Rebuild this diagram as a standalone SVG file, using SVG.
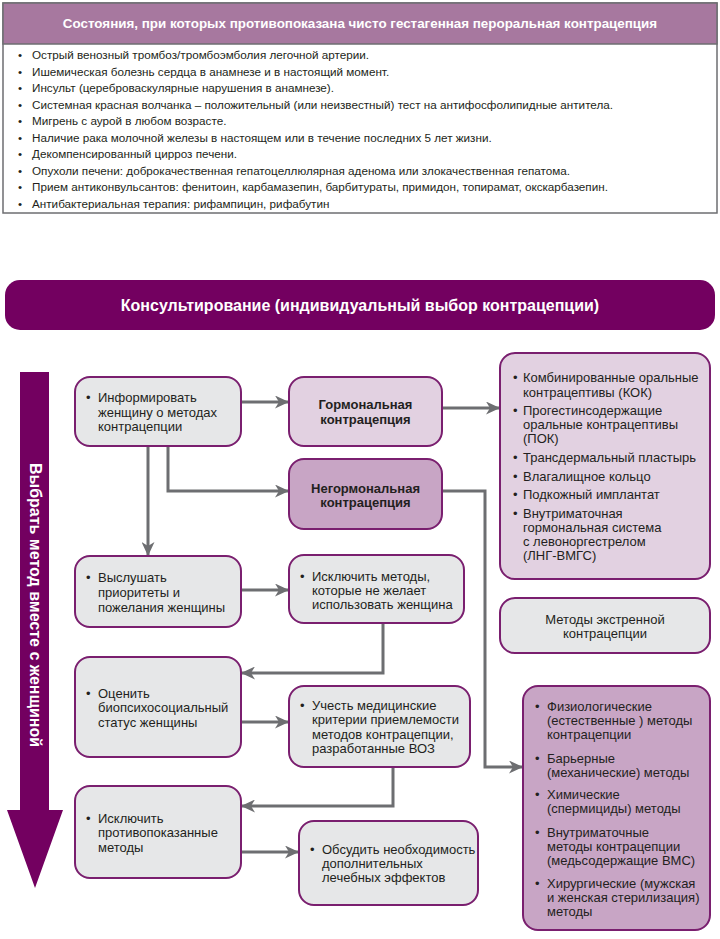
<svg xmlns="http://www.w3.org/2000/svg" width="720" height="939" viewBox="0 0 720 939">
<defs>
<marker id="ah" markerUnits="userSpaceOnUse" markerWidth="15" markerHeight="13" refX="14" refY="6.5" orient="auto">
<path d="M0,0 L14,6.5 L0,13 L4,6.5 z" fill="#6d6e71"/>
</marker>
<style>
.t{font-family:"Liberation Sans",Arial,sans-serif;font-size:13px;fill:#231f20}
.tl{font-family:"Liberation Sans",Arial,sans-serif;font-size:11.7px;fill:#231f20}
.b{font-weight:bold}
.c{text-anchor:middle}
.g{fill:#e6e7e8;stroke:#7a1f6f;stroke-width:2}
.l{fill:#e2d1e1;stroke:#7a1f6f;stroke-width:2}
.m{fill:#c8a5c5;stroke:#7a1f6f;stroke-width:2}
.cn{fill:none;stroke:#6d6e71;stroke-width:3;marker-end:url(#ah)}
</style>
</defs>
<rect width="720" height="939" fill="#ffffff"/>

<g id="contraindications">
<rect x="3" y="3" width="714" height="210" fill="#ffffff" stroke="#6d6e71" stroke-width="1.5"/>
<rect x="3" y="3" width="714" height="41" fill="#a7789f" stroke="#6d6e71" stroke-width="1.5"/>
<text x="360" y="28" class="t b c" style="fill:#ffffff;font-size:13.4px">Состояния, при которых противопоказана чисто гестагенная пероральная контрацепция</text>
<g class="tl">
<text x="18" y="59">•</text><text x="32" y="59">Острый венозный тромбоз/тромбоэмболия легочной артерии.</text>
<text x="18" y="75.5">•</text><text x="32" y="75.5">Ишемическая болезнь сердца в анамнезе и в настоящий момент.</text>
<text x="18" y="92">•</text><text x="32" y="92">Инсульт (цереброваскулярные нарушения в анамнезе).</text>
<text x="18" y="108.5">•</text><text x="32" y="108.5">Системная красная волчанка – положительный (или неизвестный) тест на антифосфолипидные антитела.</text>
<text x="18" y="125">•</text><text x="32" y="125">Мигрень с аурой в любом возрасте.</text>
<text x="18" y="141.5">•</text><text x="32" y="141.5">Наличие рака молочной железы в настоящем или в течение последних 5 лет жизни.</text>
<text x="18" y="158">•</text><text x="32" y="158">Декомпенсированный цирроз печени.</text>
<text x="18" y="174.5">•</text><text x="32" y="174.5">Опухоли печени: доброкачественная гепатоцеллюлярная аденома или злокачественная гепатома.</text>
<text x="18" y="191">•</text><text x="32" y="191">Прием антиконвульсантов: фенитоин, карбамазепин, барбитураты, примидон, топирамат, окскарбазепин.</text>
<text x="18" y="207.5">•</text><text x="32" y="207.5">Антибактериальная терапия: рифампицин, рифабутин</text>
</g>
</g>

<g id="banner">
<rect x="5" y="280" width="710" height="50" rx="15" fill="#730060"/>
<text x="360" y="311" class="t b c" style="fill:#ffffff;font-size:16px">Консультирование (индивидуальный выбор контрацепции)</text>
</g>

<g id="side-arrow">
<path d="M20,372 H49 V810 H63 L35,888 L7,810 H20 Z" fill="#730060"/>
<text transform="translate(35,605) rotate(90)" x="0" y="5.5" class="t b c" style="fill:#ffffff;font-size:16px">Выбрать метод вместе с женщиной</text>
</g>

<g id="connectors">
<path class="cn" d="M241,402 H289"/>
<path class="cn" d="M442,408 H500"/>
<path class="cn" d="M168,446 V491 H289"/>
<path class="cn" d="M148,446 V556"/>
<path class="cn" d="M442,491 H485 V767 H523"/>
<path class="cn" d="M241,590 H289"/>
<path class="cn" d="M383,623 V673 H241"/>
<path class="cn" d="M241,722 H289"/>
<path class="cn" d="M393,767 V806 H241"/>
<path class="cn" d="M241,852 H299"/>
</g>

<g id="inform">
<rect x="75" y="377" width="166" height="69" rx="15" class="g"/>
<g class="t"><text x="86" y="402">•</text><text x="98" y="402">Информировать</text><text x="98" y="416.5">женщину о методах</text><text x="98" y="431">контрацепции</text></g>
</g>

<g id="hormonal">
<rect x="289" y="377" width="153" height="69" rx="15" class="l"/>
<g class="t b c"><text x="365.5" y="408.5">Гормональная</text><text x="365.5" y="423.5">контрацепция</text></g>
</g>

<g id="nonhormonal">
<rect x="289" y="459" width="153" height="70" rx="15" class="m"/>
<g class="t b c"><text x="365.5" y="492.5">Негормональная</text><text x="365.5" y="507">контрацепция</text></g>
</g>

<g id="hormonal-methods">
<rect x="500" y="353" width="210" height="226" rx="15" class="l"/>
<g class="t">
<text x="513" y="381.5">•</text><text x="523" y="381.5">Комбинированные оральные</text>
<text x="523" y="397">контрацептивы  (КОК)</text>
<text x="513" y="415">•</text><text x="523" y="415">Прогестинсодержащие</text>
<text x="523" y="429">оральные контрацептивы</text>
<text x="523" y="443">(ПОК)</text>
<text x="513" y="461.5">•</text><text x="523" y="461.5">Трансдермальный пластырь</text>
<text x="513" y="480.5">•</text><text x="523" y="480.5">Влагалищное кольцо</text>
<text x="513" y="498.5">•</text><text x="523" y="498.5">Подкожный имплантат</text>
<text x="513" y="517.5">•</text><text x="523" y="517.5">Внутриматочная</text>
<text x="523" y="531.5">гормональная система</text>
<text x="523" y="545.5">с левоноргестрелом</text>
<text x="523" y="560">(ЛНГ-ВМГС)</text>
</g>
</g>

<g id="listen">
<rect x="75" y="556" width="166" height="71" rx="15" class="g"/>
<g class="t"><text x="86" y="582">•</text><text x="98" y="582">Выслушать</text><text x="98" y="597">приоритеты и</text><text x="98" y="611.5">пожелания женщины</text></g>
</g>

<g id="exclude-unwanted">
<rect x="289" y="555" width="175" height="68" rx="15" class="g"/>
<g class="t"><text x="300" y="580.5">•</text><text x="312" y="580.5">Исключить методы,</text><text x="312" y="594.5">которые не желает</text><text x="312" y="608.5">использовать женщина</text></g>
</g>

<g id="emergency">
<rect x="500" y="598" width="210" height="55" rx="15" class="g"/>
<g class="t c"><text x="605" y="623.5">Методы экстренной</text><text x="605" y="637.5">контрацепции</text></g>
</g>

<g id="assess">
<rect x="75" y="657" width="166" height="100" rx="15" class="g"/>
<g class="t"><text x="86" y="697.5">•</text><text x="98" y="697.5">Оценить</text><text x="98" y="712">биопсихосоциальный</text><text x="98" y="726.5">статус женщины</text></g>
</g>

<g id="who-criteria">
<rect x="289" y="686" width="181" height="81" rx="15" class="g"/>
<g class="t"><text x="300" y="709.5">•</text><text x="312" y="709.5">Учесть медицинские</text><text x="312" y="724">критерии приемлемости</text><text x="312" y="738.5">методов контрацепции,</text><text x="312" y="753">разработанные ВОЗ</text></g>
</g>

<g id="nonhormonal-methods">
<rect x="523" y="686" width="187" height="244" rx="15" class="m"/>
<g class="t">
<text x="535" y="710.5">•</text><text x="547" y="710.5">Физиологические</text>
<text x="547" y="724.5">(естественные ) методы</text>
<text x="547" y="739">контрацепции</text>
<text x="535" y="762.5">•</text><text x="547" y="762.5">Барьерные</text>
<text x="547" y="776.5">(механические) методы</text>
<text x="535" y="798.5">•</text><text x="547" y="798.5">Химические</text>
<text x="547" y="813">(спермициды) методы</text>
<text x="535" y="836.5">•</text><text x="547" y="836.5">Внутриматочные</text>
<text x="547" y="850.5">методы контрацепции</text>
<text x="547" y="865">(медьсодержащие ВМС)</text>
<text x="535" y="887.5">•</text><text x="547" y="887.5">Хирургические (мужская</text>
<text x="547" y="901.5">и женская стерилизация)</text>
<text x="547" y="916">методы</text>
</g>
</g>

<g id="exclude-contraindicated">
<rect x="75" y="786" width="166" height="92" rx="15" class="g"/>
<g class="t"><text x="86" y="822.5">•</text><text x="98" y="822.5">Исключить</text><text x="98" y="837">противопоказанные</text><text x="98" y="851.5">методы</text></g>
</g>

<g id="discuss">
<rect x="299" y="821" width="179" height="84" rx="15" class="g"/>
<g class="t"><text x="310" y="853.5">•</text><text x="322" y="853.5">Обсудить необходимость</text><text x="322" y="867.5">дополнительных</text><text x="322" y="882">лечебных эффектов</text></g>
</g>
</svg>
